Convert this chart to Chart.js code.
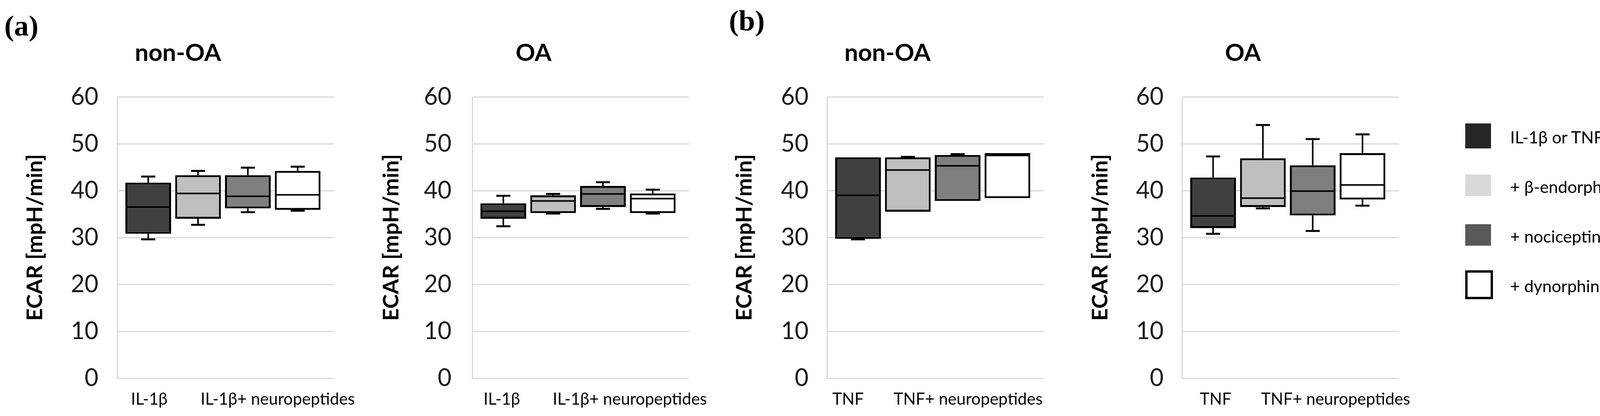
<!DOCTYPE html>
<html>
<head>
<meta charset="utf-8">
<title>ECAR box plots</title>
<script src="https://cdn.jsdelivr.net/npm/chart.js"></script>
<style>
  body { margin: 0; background: #fff; width: 4153px; height: 1065px; position: relative; overflow: hidden; font-family: Lato, sans-serif; }
  .panel { position: absolute; top: 0; height: 1065px; }
  .tag { position: absolute; font-family: 'Liberation Serif', serif; font-weight: bold; font-size: 75px; line-height: 1; color: #000; }
  #legend { position: absolute; left: 3751px; top: 284px; margin: 0; padding: 0; list-style: none; }
  #legend li { display: flex; align-items: center; height: 127px; }
  #legend .wrap { width: 115px; flex-shrink: 0; display: flex; align-items: center; }
  #legend .swatch { box-sizing: border-box; display: block; }
  #legend .text { font-size: 43px; color: #000; white-space: nowrap; position: relative; top: 3px; }
</style>
</head>
<body>
<div class="tag" style="left:11px; top:28px">(a)</div>
<div class="tag" style="left:1866px; top:15px">(b)</div>
<div class="panel" id="p0"><canvas id="c0"></canvas></div>
<div class="panel" id="p1"><canvas id="c1"></canvas></div>
<div class="panel" id="p2"><canvas id="c2"></canvas></div>
<div class="panel" id="p3"><canvas id="c3"></canvas></div>
<ul id="legend"></ul>

<script>
// ---- data ----
const yTickValues = [0, 10, 20, 30, 40, 50, 60];
const panelTitles = ['non-OA', 'OA', 'non-OA', 'OA'];
const xLabelsA = ['IL-1β', 'IL-1β+ neuropeptides'];
const xLabelsB = ['TNF', 'TNF+ neuropeptides'];
const seriesNames = ['IL-1β or TNF', '+ β-endorphin', '+ nociceptin', '+ dynorphin A'];
const boxColors = ['#404040', '#bfbfbf', '#7f7f7f', '#ffffff'];
const legendColors = ['#262626', '#d9d9d9', '#595959', '#ffffff'];

// (a) non-OA
const aNonOaMin    = [29.6, 32.7, 35.4, 35.7];
const aNonOaQ1     = [30.8, 34.0, 36.2, 35.9];
const aNonOaMedian = [36.5, 39.4, 38.8, 39.1];
const aNonOaQ3     = [41.7, 43.3, 43.3, 44.2];
const aNonOaMax    = [43.0, 44.2, 44.9, 45.1];

// (a) OA
const aOaMin    = [32.4, 35.1, 36.1, 35.1];
const aOaQ1     = [34.0, 35.2, 36.5, 35.2];
const aOaMedian = [35.6, 37.8, 39.3, 38.3];
const aOaQ3     = [37.3, 39.0, 41.0, 39.4];
const aOaMax    = [38.9, 39.3, 41.8, 40.2];

// (b) non-OA
const bNonOaMin    = [29.6, 35.5, 37.8, 38.4];
const bNonOaQ1     = [29.7, 35.5, 37.8, 38.4];
const bNonOaMedian = [39.0, 44.4, 45.3, 47.5];
const bNonOaQ3     = [47.1, 47.1, 47.6, 48.0];
const bNonOaMax    = [47.1, 47.2, 47.8, 48.0];

// (b) OA
const bOaMin    = [30.8, 36.2, 31.4, 36.8];
const bOaQ1     = [32.0, 36.5, 34.7, 38.1];
const bOaMedian = [34.6, 38.4, 39.9, 41.2];
const bOaQ3     = [42.8, 46.9, 45.4, 48.0];
const bOaMax    = [47.3, 54.0, 51.0, 52.0];

const panelStats = [
  { min: aNonOaMin, q1: aNonOaQ1, median: aNonOaMedian, q3: aNonOaQ3, max: aNonOaMax },
  { min: aOaMin, q1: aOaQ1, median: aOaMedian, q3: aOaQ3, max: aOaMax },
  { min: bNonOaMin, q1: bNonOaQ1, median: bNonOaMedian, q3: bNonOaQ3, max: bNonOaMax },
  { min: bOaMin, q1: bOaQ1, median: bOaMedian, q3: bOaQ3, max: bOaMax }
];
const panelLabels = [xLabelsA, xLabelsA, xLabelsB, xLabelsB];

// ---- layout (pixels on the page) ----
const PAGE_H = 1065, PLOT_TOP = 248, PLOT_BOTTOM = 968, PAD_RIGHT = 90;
const BOX_STEP = 127.5, FIRST_BOX = 79.5, BOX_W = 117;
const TITLE_SIZE = 62;
const layout = [
  { left: 56,   plotLeft: 300,  plotRight: 855,  tickGap: 48, labelAt: [0.02, 2.6] },
  { left: 968,  plotLeft: 1209, plotRight: 1764, tickGap: 53, labelAt: [-0.03, 2.54] },
  { left: 1872, plotLeft: 2117, plotRight: 2672, tickGap: 47, labelAt: [-0.2, 2.21] },
  { left: 2783, plotLeft: 3026, plotRight: 3581, tickGap: 47, labelAt: [0.05, 2.46] }
];
const legendBoxW = [66, 66, 66, 71];
const legendBoxH = [64, 55, 55, 74];

// median line + whiskers on top of the floating bars
const boxWhiskers = {
  id: 'boxWhiskers',
  afterDatasetsDraw(chart) {
    const ds = chart.data.datasets[0];
    const st = ds.stats;
    if (!st) return;
    const { ctx } = chart;
    const y = chart.scales.y;
    const meta = chart.getDatasetMeta(0);
    ctx.save();
    ctx.strokeStyle = '#000';
    meta.data.forEach((bar, i) => {
      const half = bar.width / 2 - 3;
      const ym = y.getPixelForValue(st.median[i]);
      ctx.lineWidth = 4;
      ctx.beginPath();
      ctx.moveTo(bar.x - half, ym);
      ctx.lineTo(bar.x + half, ym);
      ctx.stroke();

      [[st.q3[i], st.max[i]], [st.q1[i], st.min[i]]].forEach(([from, to]) => {
        if (Math.abs(from - to) < 0.05) return;
        const y0 = y.getPixelForValue(from);
        const y1 = y.getPixelForValue(to);
        ctx.lineWidth = 4;
        ctx.beginPath();
        ctx.moveTo(bar.x, y0);
        ctx.lineTo(bar.x, y1);
        ctx.stroke();
        ctx.lineWidth = 5;
        ctx.beginPath();
        ctx.moveTo(bar.x - 18, y1);
        ctx.lineTo(bar.x + 18, y1);
        ctx.stroke();
      });
    });
    ctx.restore();
  }
};

// legend built as html from the chart's legend items
const htmlLegend = {
  id: 'htmlLegend',
  afterUpdate(chart) {
    const ul = document.getElementById('legend');
    ul.innerHTML = '';
    const items = chart.options.plugins.legend.labels.generateLabels(chart);
    items.forEach((item, i) => {
      const li = document.createElement('li');
      const wrap = document.createElement('span');
      wrap.className = 'wrap';
      const sw = document.createElement('span');
      sw.className = 'swatch';
      sw.style.background = item.fillStyle;
      sw.style.width = legendBoxW[i] + 'px';
      sw.style.height = legendBoxH[i] + 'px';
      if (item.lineWidth) sw.style.border = item.lineWidth + 'px solid ' + item.strokeStyle;
      wrap.appendChild(sw);
      const txt = document.createElement('span');
      txt.className = 'text';
      txt.textContent = item.text;
      li.appendChild(wrap);
      li.appendChild(txt);
      ul.appendChild(li);
    });
  }
};

function makeChart(k) {
  const L = layout[k];
  const st = panelStats[k];
  const labels = panelLabels[k];
  const holder = document.getElementById('p' + k);
  holder.style.left = L.left + 'px';
  holder.style.width = (L.plotRight + PAD_RIGHT - L.left) + 'px';

  const xMin = -FIRST_BOX / BOX_STEP;
  const xMax = xMin + (L.plotRight - L.plotLeft) / BOX_STEP;

  return new Chart(document.getElementById('c' + k), {
    type: 'bar',
    data: {
      datasets: [{
        data: st.q1.map((q, i) => ({ x: i, y: [q, st.q3[i]] })),
        backgroundColor: boxColors,
        borderColor: '#000',
        borderWidth: 5,
        borderSkipped: false,
        categoryPercentage: 1,
        barPercentage: BOX_W / BOX_STEP,
        stats: st
      }]
    },
    options: {
      responsive: true,
      maintainAspectRatio: false,
      animation: false,
      events: [],
      layout: { padding: { left: 0, right: PAD_RIGHT, top: 0, bottom: 0 } },
      plugins: {
        legend: {
          display: false,
          labels: {
            generateLabels: () => seriesNames.map((name, i) => ({
              text: name,
              fillStyle: legendColors[i],
              strokeStyle: '#000',
              lineWidth: i === 3 ? 6 : 0,
              hidden: false,
              index: i
            }))
          }
        },
        tooltip: { enabled: false },
        title: {
          display: true,
          text: panelTitles[k],
          color: '#000',
          font: { family: 'Lato', size: TITLE_SIZE, weight: 'bold' },
          padding: { top: 136 - TITLE_SIZE * 0.6, bottom: PLOT_TOP - 136 - TITLE_SIZE * 0.6 }
        }
      },
      scales: {
        x: {
          type: 'linear',
          offset: false,
          min: xMin,
          max: xMax,
          grid: { display: false, drawTicks: false, offset: false },
          border: { display: false },
          afterBuildTicks: s => { s.ticks = L.labelAt.map(v => ({ value: v })); },
          afterFit: s => { s.height = PAGE_H - PLOT_BOTTOM; s.paddingLeft = 0; s.paddingRight = 0; },
          ticks: {
            autoSkip: false, maxRotation: 0, minRotation: 0, padding: 29,
            color: '#000',
            font: { family: 'Lato', size: 42 },
            callback: (v, i) => labels[i]
          }
        },
        y: {
          min: 0,
          max: 60,
          afterBuildTicks: s => { s.ticks = yTickValues.map(v => ({ value: v })); },
          afterFit: s => { s.width = L.plotLeft - L.left; s.paddingTop = 0; s.paddingBottom = 0; },
          grid: { color: '#d9d9d9', lineWidth: 3, drawTicks: false },
          border: { display: true, color: '#d9d9d9', width: 3 },
          ticks: { padding: L.tickGap, color: '#1a1a1a', font: { family: 'Lato', size: 61 } },
          title: {
            display: true,
            text: 'ECAR [mpH/min]',
            color: '#000',
            font: { family: 'Lato', size: 56, weight: 'bold' },
            padding: { top: 0, bottom: 0 }
          }
        }
      }
    },
    plugins: k === 3 ? [boxWhiskers, htmlLegend] : [boxWhiskers]
  });
}

[0, 1, 2, 3].forEach(makeChart);
</script>
</body>
</html>
